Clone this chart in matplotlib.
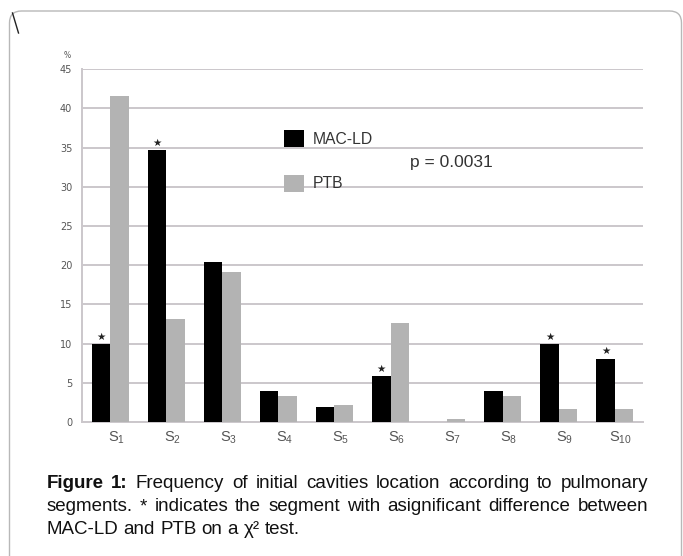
import matplotlib

matplotlib.use("Agg")
import matplotlib.pyplot as plt
import numpy as np
from matplotlib.lines import Line2D
from matplotlib.patches import FancyBboxPatch, Rectangle
from matplotlib.transforms import IdentityTransform

# values (percent of cavities per segment)
segments = [f"S$_{{{i}}}$" for i in range(1, 11)]
mac_ld = [10.0, 34.7, 20.4, 3.9, 1.9, 5.9, 0.0, 3.9, 10.0, 8.1]
ptb = [41.6, 13.2, 19.1, 3.3, 2.2, 12.6, 0.4, 3.3, 1.6, 1.6]
significant = [True, True, False, False, False, True, False, False, True, True]
y_ticks = [0, 5, 10, 15, 20, 25, 30, 35, 40, 45]
series_names = ["MAC-LD", "PTB"]
p_value_text = "p = 0.0031"

caption_lines = [
    ("Figure 1:", "Frequency of initial cavities location according to pulmonary"),
    ("", "segments. * indicates the segment with asignificant difference between"),
    ("", "MAC-LD and PTB on a \u03c7\u00b2 test."),
]

W, H = 683, 556
BLACK = "#000000"
GREY = "#b3b3b3"
GRID = "#cbc7cb"
TEXT = "#333333"

plt.rcParams["font.family"] = ["Liberation Sans", "DejaVu Sans"]
plt.rcParams["mathtext.fontset"] = "custom"
plt.rcParams["mathtext.rm"] = "Liberation Sans"
plt.rcParams["mathtext.it"] = "Liberation Sans:italic"
plt.rcParams["mathtext.bf"] = "Liberation Sans:bold"


def fx(x):
    return x / W


def fy(y):
    return 1 - y / H


fig = plt.figure(figsize=(W / 100, H / 100), dpi=100)
fig.patch.set_facecolor("white")

# rounded frame and stray mark at top-left
frame = FancyBboxPatch(
    (9.5, -20), 672, H - 11 + 20,
    boxstyle="round,pad=0,rounding_size=12",
    transform=IdentityTransform(), facecolor="none", edgecolor="#b8b8b8", linewidth=1.0,
)
fig.patches.append(frame)
fig.lines.append(Line2D([12.5, 18.5], [H - 13, H - 33], transform=IdentityTransform(),
                        color="#222222", linewidth=1.0))

ax = fig.add_axes([fx(82), fy(422), fx(643) - fx(82), fy(69.3) - fy(422)])
x = np.arange(len(segments))
width = 0.33

ax.bar(x - width / 2, mac_ld, width, color=BLACK, zorder=3)
ax.bar(x + width / 2, ptb, width, color=GREY, zorder=3)

for xi, v, sig in zip(x, mac_ld, significant):
    if sig:
        ax.annotate("\u2605", (xi - width / 2, v), xytext=(0, 1.5), textcoords="offset points",
                    ha="center", va="bottom", fontsize=7.5, color="#222222",
                    family=["DejaVu Sans"])

ax.set_xlim(-0.5, len(segments) - 0.5)
ax.set_ylim(0, 45)
ax.set_yticks(y_ticks)
ax.set_yticklabels([str(t) for t in y_ticks], fontsize=7, color="#555555", family=["DejaVu Sans"])
ax.tick_params(axis="y", length=0, pad=7)
ax.set_xticks([])
ax.yaxis.grid(True, color=GRID, linewidth=1.4, zorder=0)
ax.set_axisbelow(True)
for side in ["top", "right"]:
    ax.spines[side].set_visible(False)
ax.spines["left"].set_color(GRID)
ax.spines["left"].set_linewidth(1.4)
ax.spines["bottom"].set_color(GRID)
ax.spines["bottom"].set_linewidth(1.4)

for xi, lab in zip(x, segments):
    ax.annotate(lab, (xi, 0), xytext=(6, -16), textcoords="offset pixels",
                ha="center", va="center", fontsize=10.5, color="#555555", annotation_clip=False)

fig.text(fx(67), fy(55), "%", fontsize=5.5, color="#555555", ha="center", va="center",
         family=["DejaVu Sans"])

# legend drawn by hand, as in the reference
for (name, color), top in zip(zip(series_names, [BLACK, GREY]), [130, 175]):
    fig.patches.append(Rectangle((fx(284), fy(top + 17)), fx(20), 17 / H,
                                 transform=fig.transFigure, facecolor=color, edgecolor="none"))
    fig.text(fx(313), fy(top + 9), name, fontsize=11.3, color=TEXT, ha="left", va="center")

fig.text(fx(410), fy(162), p_value_text, fontsize=12.5, color=TEXT, ha="left", va="center")

# justified caption
renderer = fig.canvas.get_renderer()
x0, x1 = 46.5, 648
baselines = [488.3, 511.2, 533.5]
cap_size = 13.5
for (bold_part, rest), yb, justify in zip(caption_lines, baselines, [True, True, False]):
    words = [(w, True) for w in bold_part.split()] + [(w, False) for w in rest.split()]
    texts = []
    for w, bold in words:
        t = fig.text(0, fy(yb), w, fontsize=cap_size, fontweight="bold" if bold else "normal",
                     color="#111111", ha="left", va="baseline")
        texts.append(t)
    widths = [t.get_window_extent(renderer).width for t in texts]
    if justify:
        gap = (x1 - x0 - sum(widths)) / (len(texts) - 1)
    else:
        gap = cap_size * 100 / 72 * 0.278
    xc = x0
    for t, w in zip(texts, widths):
        t.set_x(fx(xc))
        xc += w + gap

fig.savefig("out.png", dpi=100)
